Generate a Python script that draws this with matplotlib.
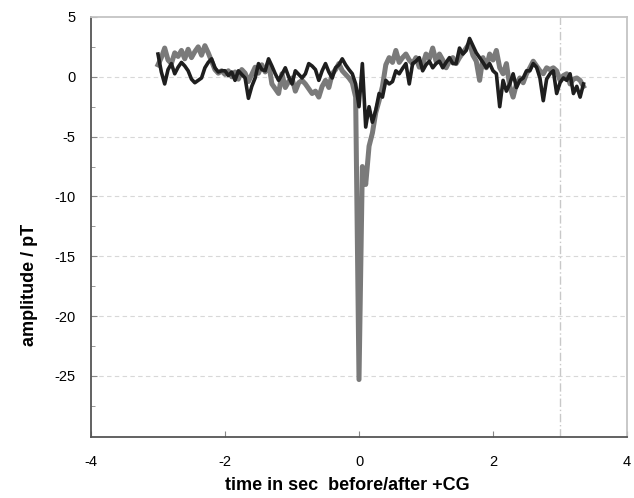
import numpy as np
import matplotlib
matplotlib.use("Agg")
import matplotlib.pyplot as plt

plt.rcParams['font.family'] = ['Liberation Sans', 'DejaVu Sans']
plt.rcParams['axes.unicode_minus'] = False

# time axis, seconds relative to the +CG stroke (sampled every 0.05 s)
t = np.round(np.arange(-3.0, 3.351, 0.05), 2)

# dark trace
dark = [1.9, 0.4, -0.6, 0.6, 1.1, 0.25, 0.8, 1.2, 0.9, 0.5,
        -0.2, -0.5, -0.3, -0.1, 0.75, 1.2, 1.5, 0.75, 0.4, 0.5,
        0.5, 0.1, 0.4, -0.3, 0.5, 0.2, -0.1, -1.8, -0.8, -0.1,
        1.1, 0.6, 0.5, 1.5, 0.9, 0.25, -0.3, 0.2, 0.75, 0.0,
        -0.6, 0.5, 0.2, -0.1,
        0.25, 1.1, 0.9, 0.6, -0.3, 0.5, 1.1, 0.4, -0.1, 0.75,
        1.0, 1.5, 1.0, 0.6, 0.25, -0.6, -2.5,
        1.1, -4.2, -2.5, -3.8, -2.8, -1.4, -1.7, -0.3, -0.6, -0.4,
        0.5, 0.25, 0.7, 1.1, -0.6, 1.1, 1.3, 1.6, 0.5, 1.0,
        1.3, 0.75, 1.1, 1.3, 0.75, 1.2, 1.6, 1.1,
        1.1, 2.4, 1.9, 2.2, 3.2, 2.6, 2.0, 1.6, 1.2, 0.75,
        1.1, 0.5, 0.25, -2.5, -0.3, -1.2, -0.6, 0.25, -0.9, -0.3,
        -0.1, 0.5,
        0.5, 1.1, 0.8, -0.1, -2.0, -0.2, 0.25, 0.5, -1.4, -0.5,
        -0.1, -0.3, 0.25, -1.4, -0.8, -1.7, -0.6]

# grey trace
grey = [1.0, 1.6, 2.4, 1.4, 1.1, 2.0, 1.7, 2.2, 1.5, 2.3,
        1.6, 2.1, 2.5, 1.8, 2.6, 2.0, 1.3, 0.6, 0.3, 0.5,
        0.2, 0.5, 0.0, 0.4, -0.2, 0.6, 0.3, -0.4, 0.2, 0.8,
        0.3, 1.0, 0.4, 1.2, -0.6, -1.0, -1.4, 0.25, -0.9, -0.4,
        -0.1, -1.2, -0.5, -0.3,
        -0.6, -1.0, -1.4, -1.2, -1.7, -0.8, -0.3, -0.9, 0.25, 0.6,
        1.1, 0.5, 0.2, -0.1, -0.5, -1.7, -25.3,
        -7.5, -9.0, -5.8, -4.7, -3.0, -2.0, -0.8, 1.0, 1.6, 1.2,
        2.2, 1.2, 1.6, 1.9, 1.4, 1.1, 1.6, 0.8, 1.0, 1.9,
        1.5, 2.4, 1.3, 1.9, 1.4, 0.75, 1.3, 1.6,
        1.1, 1.6, 2.0, 2.4, 2.8, 1.8, 1.3, -0.3, 1.6, 0.75,
        1.9, 1.4, 2.2, 0.75, 0.25, 1.1, -0.8, -1.7, -0.6, -0.1,
        -0.5, 0.25,
        0.75, 1.3, 0.9, 0.5, 0.25, 0.75, 0.6, 0.75, 0.5, -0.3,
        0.1, 0.25, -0.6, -0.2, -0.1, -0.3, -0.8]

fig = plt.figure(figsize=(6.34, 4.98), dpi=100)
ax = fig.add_axes([0.1435, 0.1225, 0.8455, 0.8435])

ax.plot(t, grey, color='#7a7a7a', lw=3.6, zorder=3)
ax.plot(t, dark, color='#1e1e1e', lw=2.6, zorder=4)

ax.set_xlim(-4, 4)
ax.set_ylim(-30.1, 5)
ax.set_xticks([-4, -2, 0, 2, 4])
ax.set_yticks([5, 0, -5, -10, -15, -20, -25])
ax.set_yticks([2.5, -2.5, -7.5, -12.5, -17.5, -22.5, -27.5], minor=True)

# faint dashed grid
for yv in [0, -5, -10, -15, -20, -25]:
    ax.axhline(yv, color='#d8d8d8', lw=0.8, ls=(0, (4, 3)), zorder=1)
ax.axvline(3, color='#c8c8c8', lw=1.0, ls=(0, (6, 2, 1, 2)), zorder=1)

ax.tick_params(axis='both', which='both', direction='in', colors='#888888',
               labelcolor='black', labelsize=10.5)
ax.tick_params(axis='y', which='major', length=4, pad=11)
ax.tick_params(axis='y', which='minor', length=3)
ax.tick_params(axis='x', which='major', length=4, pad=13)

for side in ['left', 'bottom']:
    ax.spines[side].set_color('#555555')
    ax.spines[side].set_linewidth(1.3)
for side in ['top', 'right']:
    ax.spines[side].set_color('#c4c4c4')
    ax.spines[side].set_linewidth(1.3)

fig.text(347 / 634, 1 - 485 / 498, 'time in sec  before/after +CG',
         ha='center', va='center', fontsize=13, fontweight='bold')
fig.text(29 / 634, 1 - 285 / 498, 'amplitude / pT', rotation=90,
         ha='center', va='center', fontsize=13, fontweight='bold')

fig.savefig('out.png', dpi=100)
